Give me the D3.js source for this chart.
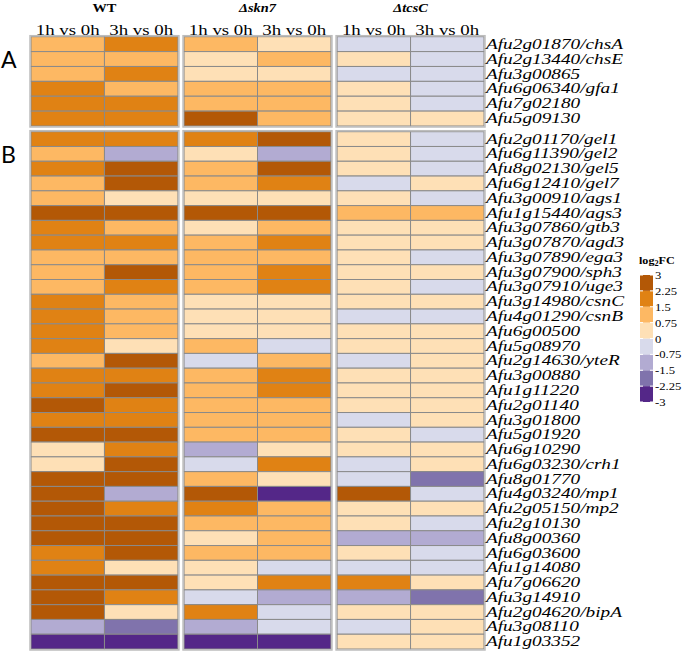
<!DOCTYPE html>
<html><head><meta charset="utf-8">
<script src="https://cdn.jsdelivr.net/npm/d3@7"></script>
<style>body{margin:0;background:#fff}svg{display:block}</style>
</head><body>
<svg id="c" width="685" height="651"></svg>
<script>
// ---- data ----
const groups = ["WT", "Δskn7", "ΔtcsC"];
const times = ["1h vs 0h", "3h vs 0h"];
const genesA = ["Afu2g01870/chsA","Afu2g13440/chsE","Afu3g00865","Afu6g06340/gfa1","Afu7g02180","Afu5g09130"];
const genesB = ["Afu2g01170/gel1","Afu6g11390/gel2","Afu8g02130/gel5","Afu6g12410/gel7","Afu3g00910/ags1","Afu1g15440/ags3","Afu3g07860/gtb3","Afu3g07870/agd3","Afu3g07890/ega3","Afu3g07900/sph3","Afu3g07910/uge3","Afu3g14980/csnC","Afu4g01290/csnB","Afu6g00500","Afu5g08970","Afu2g14630/yteR","Afu3g00880","Afu1g11220","Afu2g01140","Afu3g01800","Afu5g01920","Afu6g10290","Afu6g03230/crh1","Afu8g01770","Afu4g03240/mp1","Afu2g05150/mp2","Afu2g10130","Afu8g00360","Afu6g03600","Afu1g14080","Afu7g06620","Afu3g14910","Afu2g04620/bipA","Afu3g08110","Afu1g03352"];
// log2FC values: first 6 = panel A, remaining 35 = panel B
const wt1h  = [1.2,1.1,1.3,1.8,1.9,2.0, 1.9,1.2,2.0,1.3,1.1,2.6,1.8,1.9,1.2,1.3,1.4,1.7,1.8,1.9,2.1,1.2,1.9,2.0,2.5,1.8,2.7,0.5,0.4,2.6,2.8,2.5,2.7,2.6,1.9,2.0,2.4,2.5,2.6,-1.2,-2.8];
const wt3h  = [1.9,1.2,2.0,1.1,1.8,1.9, 1.8,-1.0,2.5,2.4,0.5,2.7,1.3,1.9,1.2,2.6,2.0,1.1,1.2,1.0,0.6,2.5,1.9,2.4,1.8,2.0,2.6,1.7,2.5,2.7,-1.1,1.9,2.5,2.6,2.4,0.5,2.6,1.8,0.4,-1.9,-2.7];
const skn1h = [1.1,0.5,0.4,1.2,1.0,2.5, 1.8,0.5,1.2,1.1,0.4,2.6,0.5,1.3,1.0,1.2,1.1,0.4,0.5,0.3,1.1,-0.3,1.2,1.3,1.0,1.1,1.2,-1.0,-0.4,1.1,2.5,1.8,1.2,0.5,1.1,0.4,0.6,-0.5,1.7,-1.1,-2.6];
const skn3h = [0.5,1.2,0.4,1.1,1.3,1.2, 2.6,-1.2,2.5,1.9,0.5,2.7,1.1,1.8,1.2,1.9,2.0,0.4,0.5,0.3,-0.4,1.1,1.8,1.9,1.3,1.2,1.1,0.5,1.8,0.4,-2.8,1.2,1.1,1.3,1.0,-0.3,1.9,-1.2,-0.4,-0.5,-2.7];
const tcs1h = [-0.4,0.5,-0.3,0.4,0.6,0.5, 0.4,0.3,0.5,-0.4,0.5,1.1,0.4,0.3,0.5,0.4,0.6,0.3,-0.4,0.5,0.4,-0.3,0.5,0.4,0.3,-0.5,0.4,0.5,-0.4,-0.3,2.5,0.4,0.5,-1.1,0.4,-0.5,1.8,-1.0,0.5,-0.4,0.3];
const tcs3h = [-0.5,-0.4,-0.3,-0.5,-0.4,0.4, -0.4,-0.5,-0.3,0.4,-0.4,1.2,0.5,0.4,-0.3,0.5,-0.4,0.4,-0.5,0.3,0.4,0.5,0.4,0.3,0.5,0.4,-0.4,0.5,0.4,-1.8,-0.5,0.4,-0.3,-1.1,-0.4,-0.5,0.5,-1.9,0.4,0.3,0.5];
const legendBreaks = [-3,-2.25,-1.5,-0.75,0,0.75,1.5,2.25,3];
const legendLabels = ["-3","-2.25","-1.5","-0.75","0","0.75","1.5","2.25","3"];
const palette = ["#542788","#8073ac","#b2abd2","#d8daeb","#fee0b6","#fdb863","#e08214","#b35806"];

const series = [wt1h, wt3h, skn1h, skn3h, tcs1h, tcs3h];
const columns = [];
groups.forEach((g, gi) => times.forEach((t, ti) => columns.push({group: g, time: t, values: series[gi*2+ti]})));

// ---- layout ----
const svg = d3.select("#c");
const serif = "'Liberation Serif','Times New Roman',serif";
const color = d3.scaleThreshold().domain(legendBreaks.slice(1, -1)).range(palette);

const xGroup = d3.scaleBand().domain(groups).range([31, 484]).paddingInner(0.04);
const xTime = d3.scaleBand().domain(times).range([0, xGroup.bandwidth()]);
const yA = d3.scaleBand().domain(genesA).range([36.7, 126]);
const yB = d3.scaleBand().domain(genesB).range([131.7, 649]);

function stretchText(sel, x, y, anchor, size, weight, style, txt, sx) {
  return sel.append("text")
    .attr("transform", `translate(${x},${y}) scale(${sx || 1.2},1)`)
    .attr("text-anchor", anchor)
    .attr("font-family", serif)
    .attr("font-size", size)
    .attr("font-weight", weight || "normal")
    .attr("font-style", style || "normal")
    .attr("fill", "#000")
    .text(txt);
}

// group headers
groups.forEach(g => {
  stretchText(svg, xGroup(g) + xGroup.bandwidth()/2, 11.5, "middle", 11.5, "bold", g === "WT" ? "normal" : "italic", g, 1.25);
  times.forEach(t => {
    stretchText(svg, xGroup(g) + xTime(t) + xTime.bandwidth()/2, 35, "middle", 14.5, "normal", "normal", t, 1.3);
  });
});

// panels
const panels = [{genes: genesA, y: yA, offset: 0, label: "A"}, {genes: genesB, y: yB, offset: genesA.length, label: "B"}];
panels.forEach(p => {
  groups.forEach(g => {
    const gg = svg.append("g");
    columns.filter(c => c.group === g).forEach(c => {
      gg.selectAll(null).data(p.genes).enter().append("rect")
        .attr("x", xGroup(g) + xTime(c.time))
        .attr("y", d => p.y(d))
        .attr("width", xTime.bandwidth())
        .attr("height", p.y.bandwidth())
        .attr("fill", (d, i) => color(c.values[p.offset + i]))
        .attr("stroke", "#8a8a8a")
        .attr("stroke-width", 1);
    });
    const r = p.y.range();
    gg.append("rect")
      .attr("x", xGroup(g) - 1).attr("y", r[0] - 1)
      .attr("width", xGroup.bandwidth() + 2).attr("height", r[1] - r[0] + 2)
      .attr("fill", "none").attr("stroke", "#bdbdbd").attr("stroke-width", 1.5);
  });
  // row labels
  p.genes.forEach(gname => {
    stretchText(svg, 486, p.y(gname) + p.y.bandwidth()/2 + 4.6, "start", 14.5, "normal", "italic", gname, 1.33);
  });
  // panel letter
  svg.append("text").attr("x", 1).attr("y", p.label === "A" ? 68 : 163)
    .attr("font-family", "Lato, 'Open Sans', sans-serif").attr("font-size", 23)
    .attr("fill", "#000").text(p.label);
});

// legend
const lx = 640, lw = 13;
const yL = d3.scaleLinear().domain([3, -3]).range([275, 402]);
const lg = svg.append("g");
const title = lg.append("text").attr("transform", `translate(639,264) scale(1.1,1)`)
  .attr("font-family", serif).attr("font-size", 11).attr("font-weight", "bold");
title.append("tspan").text("log");
title.append("tspan").attr("font-size", 7.5).attr("dy", 2).text("2");
title.append("tspan").attr("dy", -2).text("FC");
palette.forEach((col, i) => {
  lg.append("rect").attr("x", lx).attr("y", yL(legendBreaks[i+1]))
    .attr("width", lw).attr("height", yL(legendBreaks[i]) - yL(legendBreaks[i+1]))
    .attr("fill", col);
});
legendBreaks.forEach((b, i) => {
  const y = yL(b);
  lg.append("line").attr("x1", lx).attr("x2", lx + 3).attr("y1", y).attr("y2", y).attr("stroke", "#fff").attr("stroke-width", 1);
  lg.append("line").attr("x1", lx + lw - 3).attr("x2", lx + lw).attr("y1", y).attr("y2", y).attr("stroke", "#fff").attr("stroke-width", 1);
  stretchText(lg, lx + lw + 2, y + 4, "start", 11, "normal", "normal", legendLabels[i], 1.15);
});
</script>
</body></html>
